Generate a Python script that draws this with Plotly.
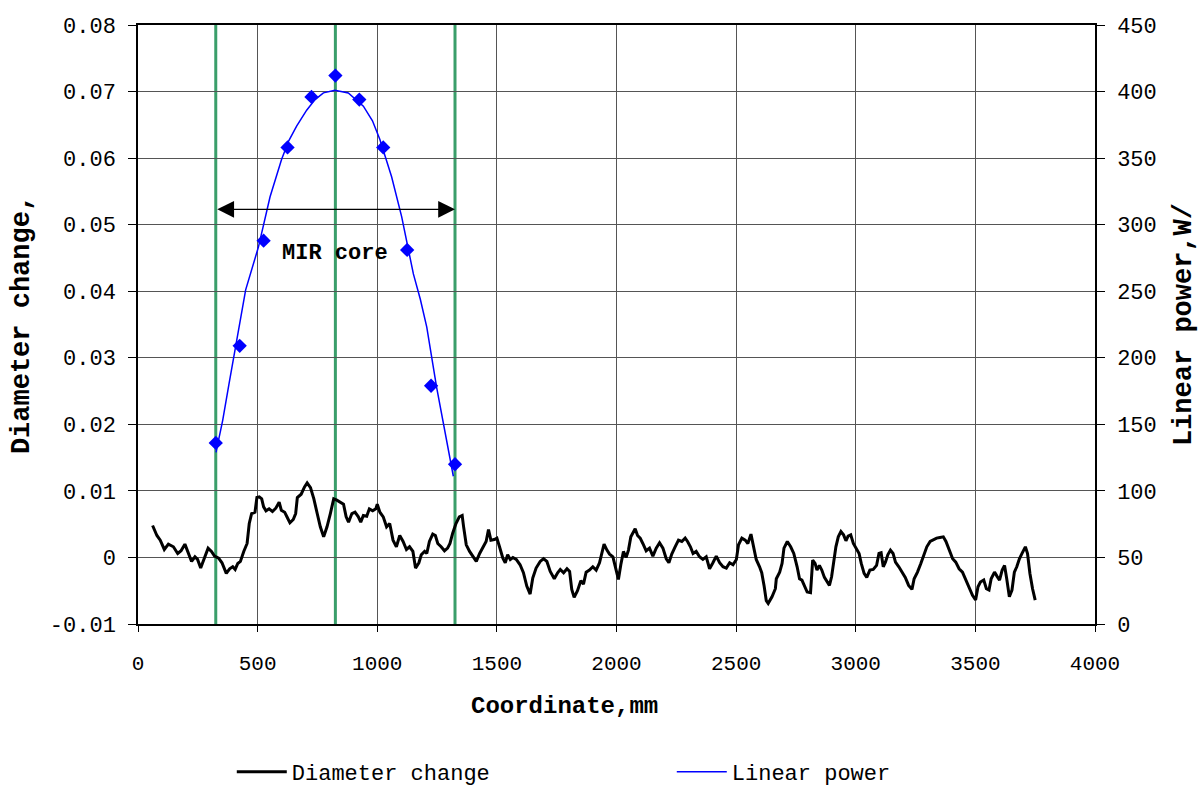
import plotly.graph_objects as go

# Diameter change (black line), coordinate mm
diam_x = [61, 79, 93, 110, 127, 148, 166, 180, 196, 210, 224, 238, 249, 262, 276, 293, 307, 320, 337, 351,
          369, 383, 396, 406, 417, 428, 442, 456, 465, 475, 489, 497, 507, 517, 525, 535, 548, 562, 576, 590,
          599, 613, 624, 635, 649, 659, 666, 682, 696, 707, 721, 735, 749, 762, 776, 790, 804, 818, 831, 845,
          859, 870, 880, 894, 907, 921, 931, 942, 956, 967, 981, 994, 1000, 1011, 1025, 1039, 1052, 1066, 1080, 1094,
          1108, 1122, 1135, 1149, 1160, 1174, 1184, 1198, 1207, 1218, 1232, 1243, 1253, 1267, 1281, 1294, 1304, 1315, 1329, 1343,
          1355, 1361, 1372, 1386, 1400, 1414, 1428, 1444, 1455, 1465, 1475, 1489, 1500, 1511, 1525, 1535, 1545, 1556, 1567, 1581,
          1597, 1611, 1625, 1639, 1650, 1664, 1681, 1695, 1709, 1723, 1740, 1754, 1765, 1779, 1793, 1804, 1813, 1823, 1837, 1851,
          1862, 1873, 1887, 1901, 1915, 1929, 1939, 1948, 1960, 1971, 1985, 1996, 2008, 2018, 2029, 2040, 2050, 2060, 2068, 2078,
          2088, 2099, 2110, 2124, 2138, 2152, 2166, 2180, 2194, 2208, 2219, 2231, 2245, 2259, 2273, 2287, 2297, 2309, 2320, 2333,
          2347, 2361, 2375, 2389, 2403, 2417, 2431, 2445, 2459, 2473, 2487, 2501, 2510, 2524, 2538, 2549, 2562, 2573, 2584, 2598,
          2607, 2617, 2626, 2634, 2650, 2664, 2668, 2682, 2692, 2700, 2714, 2728, 2741, 2755, 2765, 2775, 2786, 2797, 2811, 2820,
          2830, 2838, 2848, 2858, 2869, 2880, 2890, 2899, 2910, 2917, 2927, 2938, 2949, 2959, 2968, 2979, 2990, 3000, 3014, 3023,
          3035, 3046, 3059, 3073, 3087, 3097, 3106, 3115, 3124, 3134, 3145, 3156, 3166, 3180, 3193, 3207, 3221, 3235, 3244, 3258,
          3272, 3286, 3297, 3311, 3325, 3338, 3352, 3366, 3377, 3391, 3405, 3418, 3432, 3446, 3460, 3474, 3488, 3501, 3511, 3521,
          3535, 3546, 3557, 3566, 3580, 3590, 3601, 3612, 3622, 3631, 3642, 3653, 3663, 3673, 3684, 3695, 3709, 3718, 3728, 3739, 3750]
diam_y = [0.0048, 0.0033, 0.0026, 0.0012, 0.0020, 0.0016, 0.0006, 0.0010, 0.0020, 0.0007, -0.0006, 0.0001, -0.0003, -0.0016, -0.0001, 0.0014, 0.0009, 0.0002, -0.0001, -0.0008,
          -0.0024, -0.0017, -0.0014, -0.0018, -0.0009, -0.0006, 0.0009, 0.0021, 0.0051, 0.0066, 0.0068, 0.0090, 0.0091, 0.0088, 0.0076, 0.0070, 0.0073, 0.0069, 0.0074, 0.0083,
          0.0071, 0.0068, 0.0060, 0.0052, 0.0057, 0.0066, 0.0090, 0.0095, 0.0106, 0.0112, 0.0105, 0.0088, 0.0066, 0.0046, 0.0031, 0.0046, 0.0066, 0.0088, 0.0086, 0.0083,
          0.0080, 0.0061, 0.0053, 0.0066, 0.0068, 0.0061, 0.0053, 0.0063, 0.0062, 0.0073, 0.0070, 0.0073, 0.0080, 0.0068, 0.0061, 0.0046, 0.0051, 0.0026, 0.0016, 0.0033,
          0.0024, 0.0012, 0.0016, 0.0009, -0.0016, -0.0008, 0.0004, 0.0009, 0.0006, 0.0024, 0.0035, 0.0033, 0.0021, 0.0016, 0.0010, 0.0014, 0.0021, 0.0036, 0.0051, 0.0061,
          0.0063, 0.0046, 0.0019, 0.0009, 0.0001, -0.0006, 0.0006, 0.0016, 0.0024, 0.0042, 0.0026, 0.0027, 0.0029, 0.0016, -0.0001, -0.0008, 0.0004, -0.0003, 0.0000, -0.0003,
          -0.0011, -0.0023, -0.0043, -0.0055, -0.0031, -0.0016, -0.0006, -0.0002, -0.0006, -0.0021, -0.0032, -0.0023, -0.0018, -0.0023, -0.0017, -0.0021, -0.0048, -0.0060, -0.0050, -0.0035,
          -0.0040, -0.0022, -0.0019, -0.0014, -0.0019, -0.0008, 0.0009, 0.0020, 0.0011, 0.0005, 0.0001, -0.0016, -0.0033, -0.0011, 0.0009, 0.0000, 0.0011, 0.0031, 0.0036, 0.0043,
          0.0033, 0.0029, 0.0021, 0.0010, 0.0014, 0.0002, 0.0014, 0.0022, 0.0014, -0.0002, -0.0008, 0.0005, 0.0016, 0.0026, 0.0024, 0.0029, 0.0024, 0.0016, 0.0006, 0.0009,
          0.0001, -0.0003, 0.0001, -0.0017, -0.0008, 0.0002, -0.0008, -0.0014, -0.0016, -0.0008, -0.0011, -0.0003, 0.0019, 0.0029, 0.0026, 0.0021, 0.0035, 0.0016, -0.0003, -0.0014,
          -0.0023, -0.0043, -0.0065, -0.0069, -0.0059, -0.0047, -0.0032, -0.0022, -0.0009, 0.0014, 0.0024, 0.0016, 0.0006, -0.0014, -0.0032, -0.0034, -0.0044, -0.0052, -0.0053, -0.0004,
          -0.0009, -0.0019, -0.0012, -0.0019, -0.0030, -0.0037, -0.0042, -0.0029, -0.0004, 0.0016, 0.0031, 0.0039, 0.0034, 0.0025, 0.0032, 0.0034, 0.0021, 0.0014, 0.0006, -0.0009,
          -0.0024, -0.0030, -0.0019, -0.0018, -0.0012, 0.0006, 0.0007, -0.0014, -0.0007, 0.0004, 0.0011, 0.0006, -0.0007, -0.0014, -0.0022, -0.0030, -0.0042, -0.0048, -0.0032, -0.0022,
          -0.0009, 0.0006, 0.0016, 0.0024, 0.0027, 0.0029, 0.0030, 0.0031, 0.0024, 0.0011, -0.0002, -0.0007, -0.0017, -0.0022, -0.0034, -0.0047, -0.0057, -0.0064, -0.0044, -0.0037,
          -0.0034, -0.0047, -0.0049, -0.0032, -0.0022, -0.0028, -0.0034, -0.0019, -0.0012, -0.0032, -0.0059, -0.0049, -0.0022, -0.0014, -0.0002, 0.0006, 0.0016, 0.0006, -0.0024, -0.0047, -0.0064]

# Linear power fitted curve (blue line)
power_line_x = [326, 354, 380, 405, 450, 503, 552, 600, 630, 663, 705, 740, 775, 823, 879, 942, 980, 1011, 1060, 1102, 1151, 1180, 1207, 1248, 1290, 1318]
power_line_y = [129, 153, 180, 206, 251, 283, 321, 349, 363, 374, 386, 394, 399, 401, 399, 389, 378, 364, 336, 306, 263, 244, 223, 178, 138, 111]

# Linear power measured points (blue diamonds)
power_pts_x = [325, 425, 525, 625, 725, 825, 925, 1025, 1125, 1225, 1325]
power_pts_y = [136, 209, 288, 358, 396, 412, 394, 358, 281, 179, 120]

# Core boundaries / centre (green lines), arrow level
core_lines_x = [325, 825, 1325]
arrow_level = 0.0523

x_ticks = [0, 500, 1000, 1500, 2000, 2500, 3000, 3500, 4000]
y_ticks = [-0.01, 0, 0.01, 0.02, 0.03, 0.04, 0.05, 0.06, 0.07, 0.08]
y_ticktext = ["-0.01", "0", "0.01", "0.02", "0.03", "0.04", "0.05", "0.06", "0.07", "0.08"]

MONO = "Liberation Mono, Courier New, monospace"
H = 787

fig = go.Figure()

fig.add_trace(go.Scatter(
    x=diam_x, y=diam_y, mode="lines", name="Diameter change",
    line=dict(color="black", width=3), yaxis="y"))
fig.add_trace(go.Scatter(
    x=power_line_x, y=power_line_y, mode="lines", name="Linear power",
    line=dict(color="#0000FF", width=1.5), yaxis="y2"))
fig.add_trace(go.Scatter(
    x=power_pts_x, y=power_pts_y, mode="markers", showlegend=False,
    marker=dict(symbol="diamond", size=11, color="#0000FF"), yaxis="y2"))

for xv in core_lines_x:
    fig.add_shape(type="line", x0=xv, x1=xv, y0=0, y1=1, xref="x", yref="paper",
                  line=dict(color="#3A9E6A", width=3), layer="between")

fig.add_annotation(x=core_lines_x[2], y=arrow_level, ax=core_lines_x[0], ay=arrow_level,
                   xref="x", yref="y", axref="x", ayref="y", text="", showarrow=True,
                   arrowhead=2, arrowside="end+start", arrowsize=2.8, arrowwidth=1.2,
                   arrowcolor="black")
fig.add_annotation(x=core_lines_x[1], y=0.0457, xref="x", yref="y", text="<b>MIR core</b>",
                   showarrow=False, font=dict(family=MONO, size=22, color="black"))
# x-axis title (placed left of centre, as in the original)
fig.add_annotation(x=0.446, y=(624 - 707) / 599, xref="paper", yref="paper",
                   xanchor="center", yanchor="middle",
                   text="<b>Coordinate,mm</b>", showarrow=False,
                   font=dict(family=MONO, size=24, color="black"))

grid = "#555555"
fig.update_layout(
    width=1199, height=H,
    margin=dict(l=138, r=104, t=25, b=163, autoexpand=False),
    paper_bgcolor="white", plot_bgcolor="white",
    font=dict(family=MONO, size=21, color="black"),
    xaxis=dict(range=[0, 4000], tickvals=x_ticks, showgrid=True, gridcolor=grid, gridwidth=1,
               showline=True, linecolor="black", linewidth=1.5, mirror=True,
               ticks="outside", ticklen=6, tickcolor="black", zeroline=False,
               ticklabelstandoff=13, tickfont=dict(size=21), automargin=False),
    yaxis=dict(range=[-0.01, 0.08], tickvals=y_ticks, ticktext=y_ticktext, showgrid=True,
               gridcolor=grid, gridwidth=1, showline=True, linecolor="black", linewidth=1.5,
               ticks="outside", ticklen=8, tickcolor="black", zeroline=False,
               ticklabelstandoff=8, tickfont=dict(size=22), automargin=False,
               title=dict(text="<b>Diameter change,</b>", font=dict(family=MONO, size=27), standoff=12)),
    yaxis2=dict(range=[0, 450], dtick=50, overlaying="y", side="right", showgrid=False,
                showline=True, linecolor="black", linewidth=1.5, ticks="outside", ticklen=8,
                tickcolor="black", zeroline=False, ticklabelstandoff=8, tickfont=dict(size=22),
                automargin=False,
                title=dict(text="<b>Linear power,W/</b>", font=dict(family=MONO, size=27), standoff=16)),
    legend=dict(orientation="h", x=0.098, y=1 - 772 / H, yref="container",
                xanchor="left", yanchor="middle",
                entrywidth=375, entrywidthmode="pixels", itemwidth=50,
                font=dict(family=MONO, size=22), bgcolor="rgba(0,0,0,0)"),
    showlegend=True,
)

fig.write_html("out.html")
